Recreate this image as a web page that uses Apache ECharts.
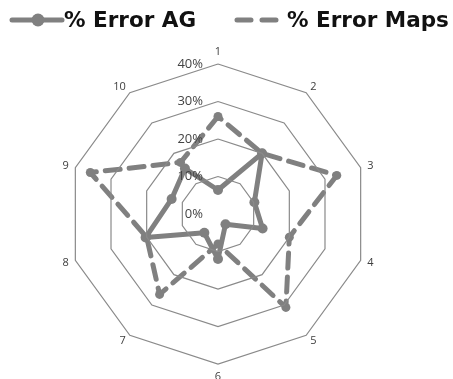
<!DOCTYPE html>
<html>
<head>
<meta charset="utf-8">
<style>
  html, body { margin: 0; padding: 0; background: #fff; }
  #chart { width: 453px; height: 379px; }
</style>
<script src="https://cdn.jsdelivr.net/npm/echarts@6/dist/echarts.min.js"></script>
</head>
<body>
<div id="chart"></div>
<script>
// Spoke labels, clockwise from the top
const categories = ['1', '2', '3', '4', '5', '6', '7', '8', '9', '10'];
// Percentage error per spoke
const errorAG   = [6.4, 20, 10.2, 12.5, 3.4, 12, 6.2, 20.3, 13, 15];
const errorMaps = [26, 20, 33.3, 20, 30.8, 8, 26.5, 20, 35.8, 17];
const seriesNames = ['% Error AG', '% Error Maps'];
const axisMax = 40;

// ECharts lays radar spokes out counter-clockwise; walk the lists
// in reverse (keeping the first one on top) to run clockwise.
const order = [0].concat(categories.map((_, i) => i).slice(1).reverse());
const pick = arr => order.map(i => arr[i]);

const GRAY = '#808080';
const chart = echarts.init(document.getElementById('chart'));

chart.setOption({
  animation: false,
  radar: {
    z: 3,
    center: [218, 214],
    radius: 150,
    shape: 'polygon',
    splitNumber: 4,
    startAngle: 90,
    axisName: { color: '#404040', fontSize: 11, fontFamily: 'Open Sans' },
    nameGap: 7,
    indicator: pick(categories).map((c, k) => ({
      name: c, min: 0, max: axisMax,
      axisLabel: { show: k === 0 }
    })),
    axisLine: { show: false },
    axisTick: { show: false },
    axisLabel: {
      show: false,
      formatter: v => v + '%',
      color: '#444',
      fontSize: 13,
      fontFamily: 'Open Sans',
      margin: 15,
      padding: [4, 0, 0, 0]
    },
    splitLine: { lineStyle: { color: '#8a8a8a', width: 1.2 } },
    splitArea: { show: false }
  },
  series: [{
    type: 'radar',
    data: [
      {
        name: seriesNames[0],
        value: pick(errorAG),
        symbol: 'circle',
        symbolSize: 10,
        lineStyle: { color: GRAY, width: 5 },
        itemStyle: { color: GRAY }
      },
      {
        name: seriesNames[1],
        value: pick(errorMaps),
        symbol: 'circle',
        symbolSize: 9,
        lineStyle: { color: GRAY, width: 5, type: [15, 9], cap: 'round' },
        itemStyle: { color: GRAY }
      }
    ]
  }],
  graphic: [
    // legend: solid line with a dot
    { type: 'line', shape: { x1: 12, y1: 20, x2: 62, y2: 20 },
      style: { stroke: GRAY, lineWidth: 5, lineCap: 'round' } },
    { type: 'circle', shape: { cx: 38, cy: 20, r: 6.5 }, style: { fill: GRAY } },
    { type: 'text', x: 64, y: 21,
      style: { text: seriesNames[0], font: 'bold 21.5px "DejaVu Sans"', fill: '#111',
               verticalAlign: 'middle' } },
    // legend: dashed line
    { type: 'line', shape: { x1: 237, y1: 20, x2: 283, y2: 20 },
      style: { stroke: GRAY, lineWidth: 5, lineCap: 'round', lineDash: [14, 11] } },
    { type: 'text', x: 287, y: 21,
      style: { text: seriesNames[1], font: 'bold 21.5px "DejaVu Sans"', fill: '#111',
               verticalAlign: 'middle' } }
  ]
});
</script>
</body>
</html>
